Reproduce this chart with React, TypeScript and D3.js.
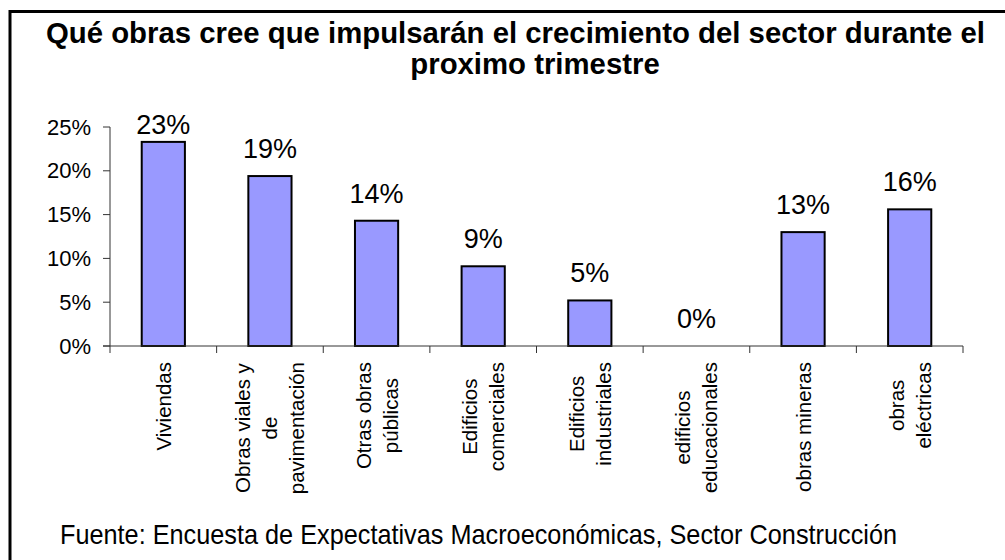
import React from "react";
import * as d3 from "d3";

const categories: string[][] = [
  ["Viviendas"],
  ["Obras viales y", "de", "pavimentación"],
  ["Otras obras", "públicas"],
  ["Edificios", "comerciales"],
  ["Edificios", "industriales"],
  ["edificios", "educacionales"],
  ["obras mineras"],
  ["obras", "eléctricas"],
];
const values: number[] = [0.233, 0.194, 0.143, 0.091, 0.052, 0.0, 0.13, 0.156];
const yTicks: number[] = [0, 0.05, 0.1, 0.15, 0.2, 0.25];
const titleLines: string[] = [
  "Qué obras cree que impulsarán el crecimiento del sector durante el",
  "proximo trimestre",
];
const footer = "Fuente: Encuesta de Expectativas Macroeconómicas, Sector Construcción";

const FONT = "'Liberation Sans', Arial, sans-serif";
const W = 1005;
const H = 560;

let ctx: CanvasRenderingContext2D | null = null;
function measure(text: string, size: number, weight = "normal"): number {
  if (!ctx) ctx = document.createElement("canvas").getContext("2d");
  if (!ctx) return text.length * size * 0.5;
  ctx.font = `${weight} ${size}px ${FONT}`;
  return ctx.measureText(text).width;
}

export default function App() {
  const left = 110, right = 963, top = 127, bottom = 346;
  const x = d3.scaleBand<number>().domain(d3.range(categories.length)).range([left, right]).padding(0);
  const y = d3.scaleLinear().domain([0, 0.25]).range([bottom, top]);
  const step = x.step();
  const barW = step * 0.405;
  const catSize = 20.5;
  const lineH = 27;

  const titleSize = 30;
  const t1W = 939;
  const ratio = t1W / measure(titleLines[0], titleSize, "bold");
  const t2W = measure(titleLines[1], titleSize, "bold") * ratio;
  const t2Center = 535;

  return (
    <svg width={W} height={H} style={{ position: "absolute", left: 0, top: 0, background: "#fff" }} fontFamily={FONT}>
      <rect x={0} y={0} width={W} height={H} fill="#fff" />
      <rect x={10} y={11.5} width={W + 20} height={H + 20} fill="none" stroke="#000" strokeWidth={3} />

      <text x={46} y={43} fontSize={titleSize} fontWeight="bold" textLength={t1W} lengthAdjust="spacingAndGlyphs">{titleLines[0]}</text>
      <text x={t2Center - t2W / 2} y={74} fontSize={titleSize} fontWeight="bold" textLength={t2W} lengthAdjust="spacingAndGlyphs">{titleLines[1]}</text>

      {/* bars */}
      {values.map((v, i) => {
        const cx = (x(i) as number) + step / 2;
        return (
          <rect key={"b" + i} x={cx - barW / 2} y={y(v)} width={barW} height={bottom - y(v)}
            fill="#9999ff" stroke="#000" strokeWidth={2} />
        );
      })}

      {/* axes */}
      <line x1={left} x2={left} y1={top} y2={bottom} stroke="#333" strokeWidth={1} />
      {yTicks.map((t) => (
        <g key={"t" + t}>
          <line x1={left - 7} x2={left} y1={y(t)} y2={y(t)} stroke="#333" strokeWidth={1} />
          <text x={91} y={y(t)} fontSize={22} textAnchor="end" dominantBaseline="central">{d3.format(".0%")(t)}</text>
        </g>
      ))}
      <line x1={left - 7} x2={right} y1={bottom} y2={bottom} stroke="#333" strokeWidth={1} />
      {d3.range(categories.length + 1).map((i) => {
        const tx = left + i * step;
        return <line key={"xt" + i} x1={tx} x2={tx} y1={bottom} y2={bottom + 7} stroke="#333" strokeWidth={1} />;
      })}

      {/* value labels */}
      {values.map((v, i) => {
        const cx = (x(i) as number) + step / 2;
        const by = Math.max(y(v) - 18, 134);
        return (
          <text key={"v" + i} x={cx} y={by} fontSize={27} textAnchor="middle">{d3.format(".0%")(v)}</text>
        );
      })}

      {/* category labels */}
      {categories.map((lines, i) => {
        const cx = (x(i) as number) + step / 2;
        const maxW = Math.max(...lines.map((l) => measure(l, catSize)));
        const midY = 362 + maxW / 2;
        return (
          <g key={"c" + i}>
            {lines.map((l, j) => {
              const lx = cx + (j - (lines.length - 1) / 2) * lineH;
              return (
                <text key={j} transform={`translate(${lx},${midY}) rotate(-90)`} fontSize={catSize}
                  textAnchor="middle" dominantBaseline="central">{l}</text>
              );
            })}
          </g>
        );
      })}

      <text x={60} y={544} fontSize={28} textLength={837} lengthAdjust="spacingAndGlyphs">{footer}</text>
    </svg>
  );
}
